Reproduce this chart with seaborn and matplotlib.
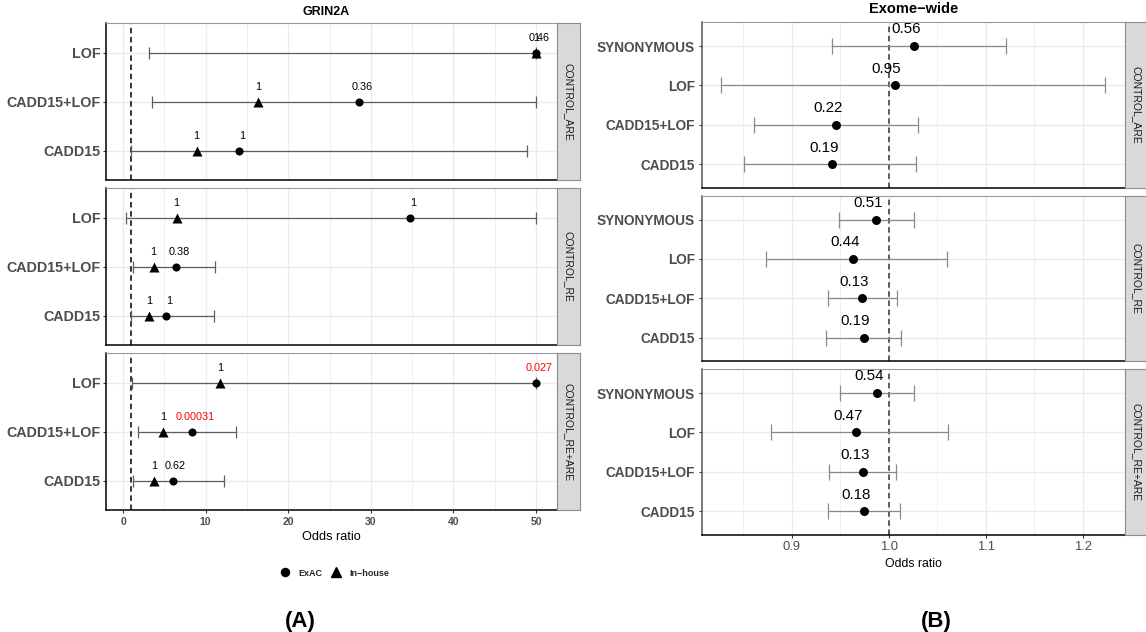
import numpy as np
import pandas as pd
import matplotlib
matplotlib.use("Agg")
import matplotlib.pyplot as plt
from matplotlib.lines import Line2D
import seaborn as sns

# ------------------------------------------------------------------ data
groups = ["CONTROL_ARE", "CONTROL_RE", "CONTROL_RE+ARE"]

# Panel A : GRIN2A
left_title = "GRIN2A"
left_cats = ["LOF", "CADD15+LOF", "CADD15"]           # top -> bottom
left_exac_or = [[50.0, 28.6, 14.1], [34.8, 6.4, 5.2], [50.0, 8.4, 6.0]]
left_inhouse_or = [[50.0, 16.4, 8.9], [6.5, 3.7, 3.2], [11.8, 4.85, 3.8]]
left_ci_lo = [[3.1, 3.45, 0.95], [0.36, 1.2, 1.0], [1.12, 1.8, 1.17]]
left_ci_hi = [[50.0, 50.0, 48.9], [50.0, 11.1, 11.05], [50.0, 13.65, 12.2]]
left_exac_p = [["0.46", "0.36", "1"], ["1", "0.38", "1"], ["0.027", "0.00031", "0.62"]]
left_inhouse_p = [["1", "1", "1"], ["1", "1", "1"], ["1", "1", "1"]]
left_xticks = [0, 10, 20, 30, 40, 50]
left_xminor = [5, 15, 25, 35, 45]

# Panel B : Exome-wide
right_title = "Exome\u2212wide"
right_cats = ["SYNONYMOUS", "LOF", "CADD15+LOF", "CADD15"]  # top -> bottom
right_or = [[1.026, 1.006, 0.946, 0.941],
            [0.987, 0.963, 0.972, 0.974],
            [0.988, 0.966, 0.973, 0.974]]
right_ci_lo = [[0.941, 0.827, 0.861, 0.851],
               [0.949, 0.873, 0.937, 0.935],
               [0.950, 0.878, 0.938, 0.937]]
right_ci_hi = [[1.1205, 1.2235, 1.030, 1.028],
               [1.0265, 1.060, 1.0086, 1.0127],
               [1.0265, 1.061, 1.0078, 1.012]]
right_p = [["0.56", "0.95", "0.22", "0.19"],
           ["0.51", "0.44", "0.13", "0.19"],
           ["0.54", "0.47", "0.13", "0.18"]]
right_xticks = [0.9, 1.0, 1.1, 1.2]
right_xminor = [0.85, 0.95, 1.05, 1.15]

sources = ["ExAC", "In\u2212house"]

# ------------------------------------------------------------------ tables
rows = []
for g, grp in enumerate(groups):
    for c, cat in enumerate(left_cats):
        rows.append(dict(group=grp, cat=cat, ypos=len(left_cats) - 1 - c, source=sources[0],
                         OR=left_exac_or[g][c], p=left_exac_p[g][c],
                         lo=left_ci_lo[g][c], hi=left_ci_hi[g][c]))
        rows.append(dict(group=grp, cat=cat, ypos=len(left_cats) - 1 - c, source=sources[1],
                         OR=left_inhouse_or[g][c], p=left_inhouse_p[g][c],
                         lo=left_ci_lo[g][c], hi=left_ci_hi[g][c]))
left_df = pd.DataFrame(rows)

rows = []
for g, grp in enumerate(groups):
    for c, cat in enumerate(right_cats):
        rows.append(dict(group=grp, cat=cat, ypos=len(right_cats) - 1 - c,
                         OR=right_or[g][c], p=right_p[g][c],
                         lo=right_ci_lo[g][c], hi=right_ci_hi[g][c]))
right_df = pd.DataFrame(rows)

# ------------------------------------------------------------------ figure
sns.set_theme(style="white")
plt.rcParams["font.family"] = ["Liberation Sans", "DejaVu Sans"]

W, H = 1146, 632
fig = plt.figure(figsize=(W / 100, H / 100), dpi=100)
PX = 0.72  # points per pixel


def add_box(x0, x1, y0, y1):
    return fig.add_axes([x0 / W, 1 - y1 / H, (x1 - x0) / W, (y1 - y0) / H])


def expand(lo, hi):
    pad = 0.05 * (hi - lo)
    return lo - pad, hi + pad


def style_panel(ax, cats, xlim, major, minor, bottom, left_spine, ylab_size,
                xlab_size, xlab_weight):
    n = len(cats)
    ax.set_xlim(*xlim)
    ax.set_ylim(-0.6, n - 1 + 0.6)
    ax.set_xticks(major)
    ax.set_xticks(minor, minor=True)
    ax.set_yticks(range(n))
    ax.set_yticklabels(cats[::-1], fontsize=ylab_size, fontweight="bold", color="#4D4D4D")
    ax.set_facecolor("white")
    ax.grid(True, which="major", color="#EBEBEB", lw=1.0)
    ax.grid(True, which="minor", axis="x", color="#EFEFEF", lw=0.7)
    ax.set_axisbelow(True)
    for s in ["top", "right"]:
        ax.spines[s].set_color("#9A9A9A")
        ax.spines[s].set_linewidth(0.8)
    ax.spines["left"].set_color(left_spine)
    ax.spines["left"].set_linewidth(1.1)
    ax.spines["bottom"].set_color("black")
    ax.spines["bottom"].set_linewidth(1.1)
    ax.tick_params(axis="y", which="major", length=3 * PX, width=0.8, color="#333333",
                   pad=1.5, left=True)
    ax.tick_params(axis="x", which="minor", length=0)
    if bottom:
        ax.tick_params(axis="x", which="major", length=3 * PX, width=0.8, color="#333333",
                       pad=2.5, bottom=True, labelsize=xlab_size, labelcolor="#4D4D4D")
        for t in ax.get_xticklabels():
            t.set_fontweight(xlab_weight)
    else:
        ax.tick_params(axis="x", which="major", length=0, labelbottom=False)
    ax.set_xlabel("")
    ax.set_ylabel("")


def add_strip(x0, x1, y0, y1, text):
    s = add_box(x0, x1, y0, y1)
    s.set_facecolor("#D9D9D9")
    s.set_xticks([])
    s.set_yticks([])
    for sp in s.spines.values():
        sp.set_color("#8C8C8C")
        sp.set_linewidth(0.8)
    s.text(0.5, 0.5, text, rotation=270, ha="center", va="center",
           fontsize=7.5, color="#1A1A1A", transform=s.transAxes)


# ---------------- Panel A
lx0, lx1 = 105.5, 556.5
l_pan_y = [(23.4, 180.3), (188.3, 345.2), (353.2, 510.1)]
left_xlim = expand(left_df["lo"].min(), left_df["hi"].max())

for g, grp in enumerate(groups):
    y0, y1 = l_pan_y[g]
    ax = add_box(lx0, lx1, y0, y1)
    sub = left_df[left_df["group"] == grp]
    bars = sub[sub["source"] == sources[0]]
    ax.axvline(1, color="black", lw=1.1, ls=(0, (3.6, 2.4)), zorder=2)
    ax.errorbar(bars["OR"], bars["ypos"],
                xerr=[bars["OR"] - bars["lo"], bars["hi"] - bars["OR"]],
                fmt="none", ecolor="#5E5E5E", elinewidth=0.9, capsize=4.0,
                capthick=0.9, zorder=3)
    sns.scatterplot(data=sub[sub["source"] == sources[0]], x="OR", y="ypos", marker="o",
                    color="black", s=34, edgecolor="black", linewidth=0, ax=ax,
                    legend=False, zorder=4)
    sns.scatterplot(data=sub[sub["source"] == sources[1]], x="OR", y="ypos", marker="^",
                    color="black", s=52, edgecolor="black", linewidth=0, ax=ax,
                    legend=False, zorder=5)
    for _, r in sub.iterrows():
        col = "red" if float(r["p"]) < 0.05 else "black"
        dx = 3 * PX if r["source"] == sources[0] else 0
        ax.annotate(r["p"], (r["OR"], r["ypos"]), xytext=(dx, 15 * PX),
                    textcoords="offset points", ha="center", va="center",
                    fontsize=7.8, color=col, zorder=6)
    style_panel(ax, left_cats, left_xlim, left_xticks, left_xminor,
                bottom=(g == len(groups) - 1), left_spine="black",
                ylab_size=10.3, xlab_size=7.5, xlab_weight="bold")
    if g == len(groups) - 1:
        ax.set_xlabel("Odds ratio", fontsize=9.2, color="black", labelpad=3)
    add_strip(lx1 + 0.5, 580, y0, y1, grp)

fig.text(326 / W, 1 - 12 / H, left_title, ha="center", va="center",
         fontsize=9, fontweight="bold", color="black")

handles = [Line2D([], [], marker="o", ls="", color="black", markersize=5.8),
           Line2D([], [], marker="^", ls="", color="black", markersize=7.2)]
fig.legend(handles, sources, loc="center", bbox_to_anchor=(335 / W, 1 - 573 / H),
           ncol=2, frameon=False, prop={"weight": "bold", "size": 6.5},
           handlelength=1.0, handletextpad=1.0, columnspacing=1.05,
           borderpad=0, borderaxespad=0)

fig.text(300 / W, 1 - 621 / H, "(A)", ha="center", va="center",
         fontsize=16, fontweight="bold", color="black")

# ---------------- Panel B
rx0, rx1 = 702, 1124.5
r_pan_y = [(22.4, 187.9), (195.9, 361.4), (369.4, 534.9)]
right_xlim = expand(right_df["lo"].min(), right_df["hi"].max())

for g, grp in enumerate(groups):
    y0, y1 = r_pan_y[g]
    ax = add_box(rx0, rx1, y0, y1)
    sub = right_df[right_df["group"] == grp]
    ax.axvline(1, color="#333333", lw=1.1, ls=(0, (3.6, 2.4)), zorder=2)
    ax.errorbar(sub["OR"], sub["ypos"],
                xerr=[sub["OR"] - sub["lo"], sub["hi"] - sub["OR"]],
                fmt="none", ecolor="#8A8A8A", elinewidth=0.9, capsize=5.5,
                capthick=0.9, zorder=3)
    sns.scatterplot(data=sub, x="OR", y="ypos", marker="o", color="black", s=42,
                    edgecolor="black", linewidth=0, ax=ax, legend=False, zorder=4)
    for _, r in sub.iterrows():
        ax.annotate(r["p"], (r["OR"], r["ypos"]), xytext=(-8 * PX, 16.7 * PX),
                    textcoords="offset points", ha="center", va="center",
                    fontsize=10.9, color="black", zorder=6)
    style_panel(ax, right_cats, right_xlim, right_xticks, right_xminor,
                bottom=(g == len(groups) - 1), left_spine="#555555",
                ylab_size=9.8, xlab_size=9.4, xlab_weight="normal")
    ax.tick_params(axis="y", pad=3)
    if g == len(groups) - 1:
        ax.set_xticklabels([f"{t:.1f}" for t in right_xticks])
        ax.set_xlabel("Odds ratio", fontsize=8.8, color="black", labelpad=3)
    add_strip(rx1 + 0.5, 1147, y0, y1, grp)

fig.text(913.5 / W, 1 - 9 / H, right_title, ha="center", va="center",
         fontsize=10.5, fontweight="bold", color="black")
fig.text(936 / W, 1 - 621 / H, "(B)", ha="center", va="center",
         fontsize=16, fontweight="bold", color="black")

fig.savefig("out.png", dpi=100, facecolor="white")
